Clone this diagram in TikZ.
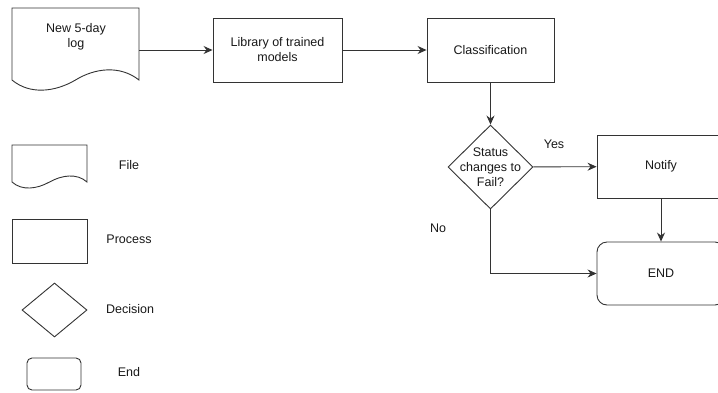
\documentclass[tikz,border=0pt]{standalone}
\usepackage{fontspec}
\setmainfont{Liberation Sans}
\usetikzlibrary{arrows.meta,shapes.geometric}
\begin{document}
\begin{tikzpicture}[x=1pt,y=1pt,
  every node/.style={font=\fontsize{12.5}{15}\selectfont, text=black!90},
  line/.style={draw=black!80, line width=0.9pt},
  box/.style={line, rectangle, align=center, inner sep=0pt},
  endbox/.style={box, rounded corners=10pt},
  dia/.style={line, diamond, inner sep=0pt},
  arr/.style={line, -{Stealth[length=9pt,width=8pt,inset=3pt]}},
  lbl/.style={inner sep=0pt}
]
\useasboundingbox (0,0) rectangle (718,-392);
\fill[white] (0,0) rectangle (718,-392);

% document shape
\node[minimum width=127pt, minimum height=84pt, inner sep=0pt] (doc) at (75.5,-50) {};
\draw[line] (12,-80) -- (12,-8) -- (139,-8) -- (139,-80)
  .. controls (120,-65) and (95,-68) .. (75.5,-80)
  .. controls (55,-92) and (30,-95) .. (12,-80);
\node[lbl, align=center] (doctext) at (76,-37) {New 5-day\\log};

\node[box, minimum width=129pt, minimum height=64pt] (lib) at (277.5,-50) {Library of trained\\models};
\node[box, minimum width=127pt, minimum height=64pt] (cls) at (490.5,-50) {Classification};
\node[dia, minimum width=85pt, minimum height=84pt,
  label={[align=center, inner sep=0pt, font=\fontsize{12.5}{15}\selectfont]center:Status\\changes to\\Fail?}] (dec) at (490.5,-167) {};
\node[box, minimum width=128pt, minimum height=63pt] (notify) at (661,-166.5) {Notify};
\node[endbox, minimum width=128pt, minimum height=63pt] (end) at (661,-273.5) {END};

\node[lbl] (yes) at (554,-144) {Yes};
\node[lbl] (no) at (438,-228) {No};

\draw[arr] (doc.east) -- (lib.west);
\draw[arr] (lib) -- (cls);
\draw[arr] (cls) -- (dec);
\draw[arr] (dec) -- (notify);
\draw[arr] (notify) -- (end);
\draw[arr] (dec.south) |- (end.west);

% legend
\draw[line] (12,-182) -- (12,-145) -- (87,-145) -- (87,-182)
  .. controls (77,-173) and (62,-175) .. (49.5,-182)
  .. controls (37,-189) and (22,-191) .. (12,-182);
\node[lbl] (lfile) at (129,-165) {File};
\node[box, minimum width=75pt, minimum height=44pt] (lproc) at (49.5,-241) {};
\node[lbl] (lproct) at (129,-239) {Process};
\node[dia, minimum width=65pt, minimum height=54pt] (ldec) at (54.5,-310) {};
\node[lbl] (ldect) at (130,-309) {Decision};
\node[box, rounded corners=5pt, minimum width=54pt, minimum height=32pt] (lend) at (54,-374) {};
\node[lbl] (lendt) at (129,-372) {End};
\end{tikzpicture}
\end{document}
